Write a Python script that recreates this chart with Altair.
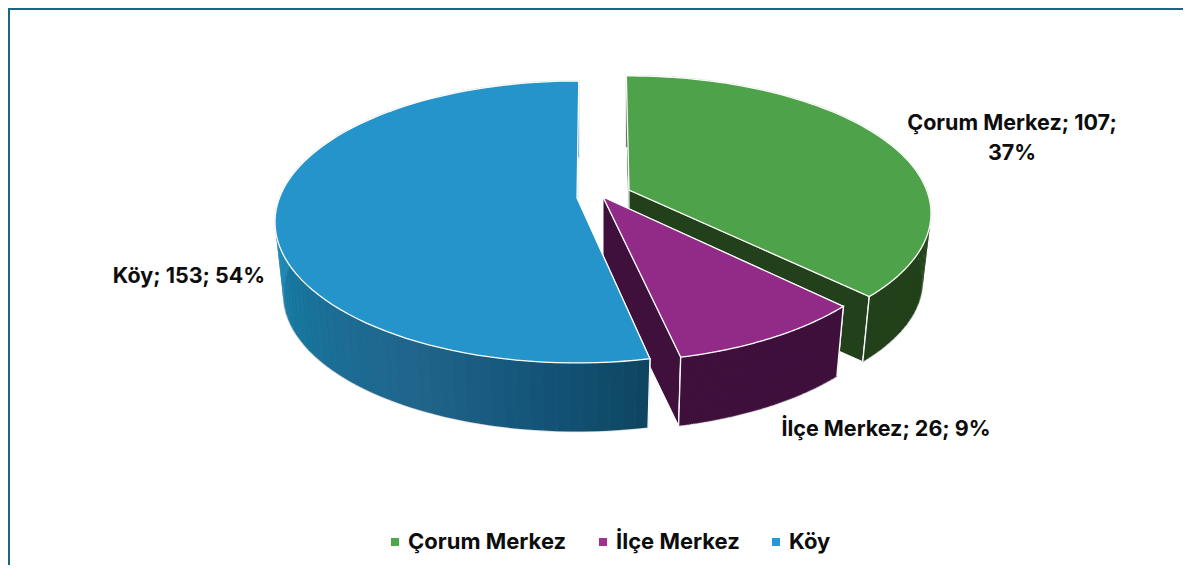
import math
import altair as alt
import numpy as np

# ---- data ----
categories = ["Çorum Merkez", "İlçe Merkez", "Köy"]
counts = [107, 26, 153]
percents = [37, 9, 54]
top_colors = ["#4EA249", "#922B87", "#2494CB"]
legend_colors = ["#4EA84A", "#A2308F", "#1E9AD6"]
wall_stops = [
    ["#22401A", "#22401A"],
    ["#3F103C", "#3F103C"],
    ["#0E4662", "#14557A", "#21648A", "#1C6C94", "#17789F", "#2188B4", "#2188B4"],
]

# ---- pie geometry (page pixels) ----
W, H = 1175, 557
PAGE = 8
APEX = [(629, 190), (603, 197), (577, 198)]   # exploded slice tips
RX, RY, K = 297.6, 136.9, 0.17                # ellipse radii and perspective
RY_SCALE = [0.975, 1.0, 1.0]                  # per-slice vertical squeeze
DEPTHS, SHRINK = [68, 73, 73], 0.973          # extrusion
NUDGE = [(-0.6, 0.0), (0, 0), (0.8, 0.4)]     # small rotation per slice edge, degrees
LABEL_POS = [(1012, 124), (886, 430), (189, 277)]
LABEL_LINES = [["{c}; {n};", "{p}%"], ["{c}; {n}; {p}%"], ["{c}; {n}; {p}%"]]
FONT = "Inter"


def proj(theta, apex, i, lower=False):
    t = math.radians(theta)
    u, v = math.sin(t), math.cos(t)
    w = 1 / (1 + K * v)
    s = SHRINK if lower else 1.0
    d = DEPTHS[i] if lower else 0
    return [apex[0] + RX * u * w * s - PAGE, apex[1] + d - RY * RY_SCALE[i] * v * w * s - PAGE]


def feature(ring, fill, stroke, sw):
    return {
        "type": "Feature",
        "geometry": {"type": "Polygon", "coordinates": [ring + [ring[0]]]},
        "properties": {"fill": fill, "stroke": stroke, "sw": sw},
    }


def hex2rgb(h):
    return np.array([int(h[i:i + 2], 16) for i in (1, 3, 5)], float)


def mix(stops, f):
    f = min(max(f, 0), 1) * (len(stops) - 1)
    i = min(int(f), len(stops) - 2)
    c = hex2rgb(stops[i]) * (1 - (f - i)) + hex2rgb(stops[i + 1]) * (f - i)
    return "#%02x%02x%02x" % tuple(int(round(x)) for x in c)


total = sum(counts)
edges = [float(e) for e in np.cumsum([0] + counts) / total * 360]
features = []
for i in range(len(counts)):
    a0, a1 = edges[i] + NUDGE[i][0], edges[i + 1] + NUDGE[i][1]
    apex = APEX[i]
    thetas = [float(t) for t in np.linspace(a0, a1, 90)]
    # flat inner walls
    for a in (a0, a1):
        ring = [proj(a, apex, i), proj(a, apex, i, True),
                [apex[0] - PAGE, apex[1] + DEPTHS[i] - PAGE], [apex[0] - PAGE, apex[1] - PAGE]]
        features.append(feature(ring, wall_stops[i][0], "#FFFFFF", 1.0))
    # light outline of the outer wall, filled beneath the strips
    ring = [proj(a, apex, i) for a in thetas] + [proj(a, apex, i, True) for a in thetas[::-1]]
    features.append(feature(ring, mix(wall_stops[i], 0.3), "#D9D9D9", 1.6))
    # shaded outer wall, cut in thin strips
    for a, b in zip(thetas[:-1], thetas[1:]):
        ring = [proj(a, apex, i), proj(b, apex, i), proj(b, apex, i, True), proj(a, apex, i, True)]
        f = (a - a0) / max(1, min(a1 - a0, 110))
        col = mix(wall_stops[i], f)
        features.append(feature(ring, col, "none", 0))
    # corner line between wall and radial face
    for a in (a0, a1):
        if math.cos(math.radians(a)) < 0:
            p, q = proj(a, apex, i), proj(a, apex, i, True)
            features.append(feature([p, q], "none", "#FFFFFF", 1.2))
    # top face
    ring = [[apex[0] - PAGE, apex[1] - PAGE]] + [proj(a, apex, i) for a in thetas]
    features.append(feature(ring, top_colors[i], "#FFFFFF", 1.3))

pie = alt.Chart(alt.Data(values=features)).mark_geoshape().encode(
    fill=alt.Fill("properties.fill:N", scale=None),
    stroke=alt.Stroke("properties.stroke:N", scale=None),
    strokeWidth=alt.StrokeWidth("properties.sw:Q", scale=None),
).project(type="identity", scale=1, translate=[0, 0])

label_rows = []
for i, c in enumerate(categories):
    lines = [s.format(c=c, n=counts[i], p=percents[i]) for s in LABEL_LINES[i]]
    label_rows.append({"px": LABEL_POS[i][0] - PAGE, "py": LABEL_POS[i][1] - PAGE, "txt": lines})

labels = alt.Chart(alt.Data(values=label_rows)).mark_text(
    font=FONT, fontSize=21.5, fontWeight=700, color="#0D0D0D", baseline="middle", align="center", lineHeight=30,
).encode(
    x=alt.X("px:Q", scale=None),
    y=alt.Y("py:Q", scale=None),
    text=alt.Text("txt:N"),
)

legend_rows = [{"cat": c} for c in categories]
legend = alt.Chart(alt.Data(values=legend_rows)).mark_square(opacity=0).encode(
    x=alt.value(0),
    y=alt.value(0),
    color=alt.Color(
        "cat:N",
        scale=alt.Scale(domain=categories, range=legend_colors),
        legend=alt.Legend(
            title=None, orient="none", legendX=376, legendY=523, direction="horizontal", columns=3,
            symbolType="square", symbolSize=64, symbolOpacity=1, symbolStrokeWidth=0,
            labelFont=FONT, labelFontSize=22, labelFontWeight=700, labelColor="#0D0D0D",
            columnPadding=25, labelOffset=2, labelLimit=300,
        ),
    ),
)

frame_top = alt.Chart(alt.Data(values=[{"k": 0}])).mark_rule(color="#1B6587", strokeWidth=2).encode(
    x=alt.value(0), x2=alt.value(W), y=alt.value(1)
)
frame_left = alt.Chart(alt.Data(values=[{"k": 0}])).mark_rule(color="#1B6587", strokeWidth=2).encode(
    y=alt.value(0), y2=alt.value(H), x=alt.value(1)
)

chart = alt.layer(pie, legend, labels, frame_top, frame_left).properties(
    width=W, height=H, padding=0,
    autosize=alt.AutoSizeParams(type="none"), background="white",
).configure_view(stroke=None)

chart.save("out.html", embed_options={"renderer": "svg", "actions": False})
